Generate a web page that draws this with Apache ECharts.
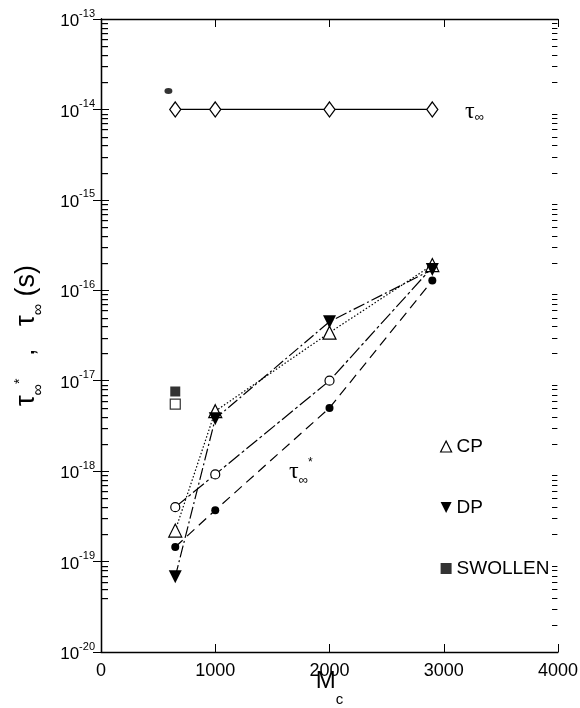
<!DOCTYPE html>
<html>
<head>
<meta charset="utf-8">
<script src="https://cdn.jsdelivr.net/npm/echarts@6/dist/echarts.min.js"></script>
<style>html,body{margin:0;padding:0;background:#fff}#c{width:580px;height:708px}</style>
</head>
<body>
<div id="c"></div>
<script>
// ---- data ----
const mcTauInf = [650, 1000, 2000, 2900];
const tauInf = [1e-14, 1e-14, 1e-14, 1e-14];
const mcBlob = [590];
const blobVals = [1.6e-14];
const mcCP = [650, 1000, 2000, 2900];
const cpVals = [2.2e-19, 4.6e-18, 3.4e-17, 1.9e-16];
const mcDP = [650, 1000, 2000, 2900];
const dpVals = [6.8e-20, 3.8e-18, 4.5e-17, 1.7e-16];
const mcOpenCirc = [650, 1000, 2000, 2900];
const openCircVals = [4.0e-19, 9.2e-19, 1.0e-17, 1.8e-16];
const mcFilledCirc = [650, 1000, 2000, 2900];
const filledCircVals = [1.45e-19, 3.7e-19, 5.0e-18, 1.28e-16];
const mcSwollen = [650];
const swollenFilled = [7.6e-18];
const swollenOpen = [5.5e-18];
const xMin = 0, xMax = 4000, xStep = 1000;
const yMin = 1e-20, yMax = 1e-13;
const minorMantissas = [2, 3, 4, 5, 6, 7, 8, 9];
const decadeExps = [-20, -19, -18, -17, -16, -15, -14];

const pairs = (xs, ys) => xs.map((x, i) => [x, ys[i]]);
const BLACK = '#000';
const FONT = 'Liberation Sans';
const SERIF = 'Liberation Serif';

const chart = echarts.init(document.getElementById('c'), null, {renderer: 'canvas'});

const yLabelFmt = v => '{b|10}{e|' + Math.round(Math.log10(v)) + '}';

const option = {
  animation: false,
  backgroundColor: '#fff',
  grid: {left: 101, right: 22, top: 19, bottom: 56, outerBoundsMode: 'none', containLabel: false},
  legend: {
    data: [
      {name: 'CP', icon: 'triangle', itemStyle: {color: '#fff', borderColor: BLACK, borderWidth: 1.2}},
      {name: 'DP', icon: 'path://M0,0 L10,0 L5,10 Z', itemStyle: {color: BLACK}},
      {name: 'SWOLLEN', icon: 'rect', itemStyle: {color: BLACK}}
    ],
    orient: 'vertical',
    left: 435,
    top: 432,
    itemWidth: 11,
    itemHeight: 11,
    itemGap: 42,
    textStyle: {fontFamily: FONT, fontSize: 19, color: BLACK},
    selectedMode: false
  },
  xAxis: [{
    type: 'value', position: 'bottom', min: xMin, max: xMax, interval: xStep,
    axisLine: {show: true, lineStyle: {color: BLACK, width: 1.3}},
    axisTick: {show: true, inside: true, length: 8, lineStyle: {color: BLACK, width: 1}},
    axisLabel: {color: BLACK, fontFamily: FONT, fontSize: 18, margin: 10, formatter: v => String(v)},
    splitLine: {show: false},
    name: '{m|M}{c|c}',
    nameLocation: 'middle',
    nameGap: 17,
    nameMoveOverlap: false,
    nameTextStyle: {
      rich: {
        m: {fontFamily: FONT, fontSize: 24, color: BLACK, lineHeight: 38, verticalAlign: 'top'},
        c: {fontFamily: FONT, fontSize: 15, color: BLACK, lineHeight: 15, verticalAlign: 'bottom'}
      }
    }
  }, {
    type: 'value', position: 'top', min: xMin, max: xMax, interval: xStep,
    axisLine: {show: true, lineStyle: {color: BLACK, width: 1.3}},
    axisTick: {show: true, inside: true, length: 8, lineStyle: {color: BLACK, width: 1}},
    axisLabel: {show: false},
    splitLine: {show: false}
  }],
  yAxis: [{
    type: 'log', logBase: 10, min: yMin, max: yMax, position: 'left',
    axisLine: {show: true, lineStyle: {color: BLACK, width: 1.3}},
    axisTick: {show: true, inside: true, length: 8, lineStyle: {color: BLACK, width: 1}},
    axisLabel: {
      formatter: yLabelFmt, margin: 6,
      rich: {
        b: {fontFamily: FONT, fontSize: 17, color: BLACK, lineHeight: 22, verticalAlign: 'bottom'},
        e: {fontFamily: FONT, fontSize: 11, color: BLACK, lineHeight: 13, verticalAlign: 'top'}
      }
    },
    splitLine: {show: false},
    name: '{t|τ}{s|∞}{p|*}{t|   ,   τ}{s|∞}{t| (s)}',
    nameLocation: 'middle',
    nameGap: 54,
    nameMoveOverlap: false,
    nameRotate: 90,
    nameTextStyle: {
      rich: {
        t: {fontFamily: FONT, fontSize: 27, color: BLACK, lineHeight: 34, verticalAlign: 'top'},
        s: {fontFamily: FONT, fontSize: 16, color: BLACK, lineHeight: 17, verticalAlign: 'bottom'},
        p: {fontFamily: FONT, fontSize: 14, color: BLACK, lineHeight: 18, verticalAlign: 'top'}
      }
    }
  }, {
    type: 'log', logBase: 10, min: yMin, max: yMax, position: 'right',
    axisLine: {show: true, lineStyle: {color: BLACK, width: 1.3}},
    axisTick: {show: true, inside: true, length: 8, lineStyle: {color: BLACK, width: 1}},
    axisLabel: {show: false},
    splitLine: {show: false}
  }],
  series: [
    {
      name: 'tauInf', type: 'line', data: pairs(mcTauInf, tauInf),
      symbol: 'diamond', symbolSize: [11, 15],
      itemStyle: {color: '#fff', borderColor: BLACK, borderWidth: 1.3},
      lineStyle: {color: BLACK, width: 1.2, type: 'solid'}, z: 3
    },
    {
      name: 'blob', type: 'scatter', data: pairs(mcBlob, blobVals),
      symbol: 'circle', symbolSize: [8, 6], itemStyle: {color: BLACK}
    },
    {
      name: 'CP', type: 'line', data: pairs(mcCP, cpVals),
      symbol: 'triangle', symbolSize: 13,
      itemStyle: {color: '#fff', borderColor: BLACK, borderWidth: 1.2},
      lineStyle: {color: BLACK, width: 1.2, type: [1.5, 2]}, z: 4
    },
    {
      name: 'DP', type: 'line', data: pairs(mcDP, dpVals),
      symbol: 'path://M0,0 L10,0 L5,10 Z', symbolSize: 13,
      itemStyle: {color: BLACK},
      lineStyle: {color: BLACK, width: 1.2, type: [12, 3, 2, 3]}, z: 4
    },
    {
      name: 'openCirc', type: 'line', data: pairs(mcOpenCirc, openCircVals),
      symbol: 'circle', symbolSize: 9,
      itemStyle: {color: '#fff', borderColor: BLACK, borderWidth: 1.2},
      lineStyle: {color: BLACK, width: 1.2, type: [14, 3, 3, 3]}, z: 3
    },
    {
      name: 'filledCirc', type: 'line', data: pairs(mcFilledCirc, filledCircVals),
      symbol: 'circle', symbolSize: 8,
      itemStyle: {color: BLACK},
      lineStyle: {color: BLACK, width: 1.2, type: [10, 6]}, z: 3
    },
    {
      name: 'SWOLLEN', type: 'scatter', data: pairs(mcSwollen, swollenFilled),
      symbol: 'rect', symbolSize: 10, itemStyle: {color: BLACK}
    },
    {
      name: 'swollenOpen', type: 'scatter', data: pairs(mcSwollen, swollenOpen),
      symbol: 'rect', symbolSize: 10,
      itemStyle: {color: '#fff', borderColor: BLACK, borderWidth: 1.2}
    }
  ],
  graphic: [
    {
      type: 'text', id: 'lblTauInf', left: 465, top: 100,
      style: {
        text: '{t|τ}{s|∞}',
        rich: {
          t: {fontFamily: SERIF, fontSize: 24, fill: BLACK, lineHeight: 24, verticalAlign: 'top'},
          s: {fontFamily: FONT, fontSize: 13, fill: BLACK, lineHeight: 14, verticalAlign: 'bottom'}
        }
      }
    },
    {
      type: 'text', id: 'lblTauStar', left: 289, top: 457,
      style: {
        text: '{t|τ}{s|∞}{p|*}',
        rich: {
          t: {fontFamily: SERIF, fontSize: 24, fill: BLACK, lineHeight: 30, verticalAlign: 'middle'},
          s: {fontFamily: FONT, fontSize: 13, fill: BLACK, lineHeight: 14, verticalAlign: 'bottom'},
          p: {fontFamily: FONT, fontSize: 12, fill: BLACK, lineHeight: 14, verticalAlign: 'top'}
        }
      }
    }
  ]
};

chart.setOption(option);

// minor log ticks (2..9 in each decade), positioned through the axis scales
const xl = chart.convertToPixel({xAxisIndex: 0}, xMin);
const xr = chart.convertToPixel({xAxisIndex: 0}, xMax);
const leftEls = [], rightEls = [];
decadeExps.forEach(e => {
  minorMantissas.forEach(m => {
    const v = m * Math.pow(10, e);
    const y = Math.round(chart.convertToPixel({yAxisIndex: 0}, v)) + 0.5;
    leftEls.push({type: 'rect', silent: true, z: 100, shape: {x: xl, y: y - 0.5, width: 7, height: 1.2}, style: {fill: '#000'}});
    rightEls.push({type: 'line', silent: true, z: 100, shape: {x1: xr - 6, y1: y, x2: xr - 0.6, y2: y}, style: {stroke: BLACK, lineWidth: 1}});
  });
});
chart.setOption({graphic: [
  {type: 'group', id: 'minorLeft', z: 100, children: leftEls},
  {type: 'group', id: 'minorRight', z: 100, children: rightEls}
]});
</script>
</body>
</html>
